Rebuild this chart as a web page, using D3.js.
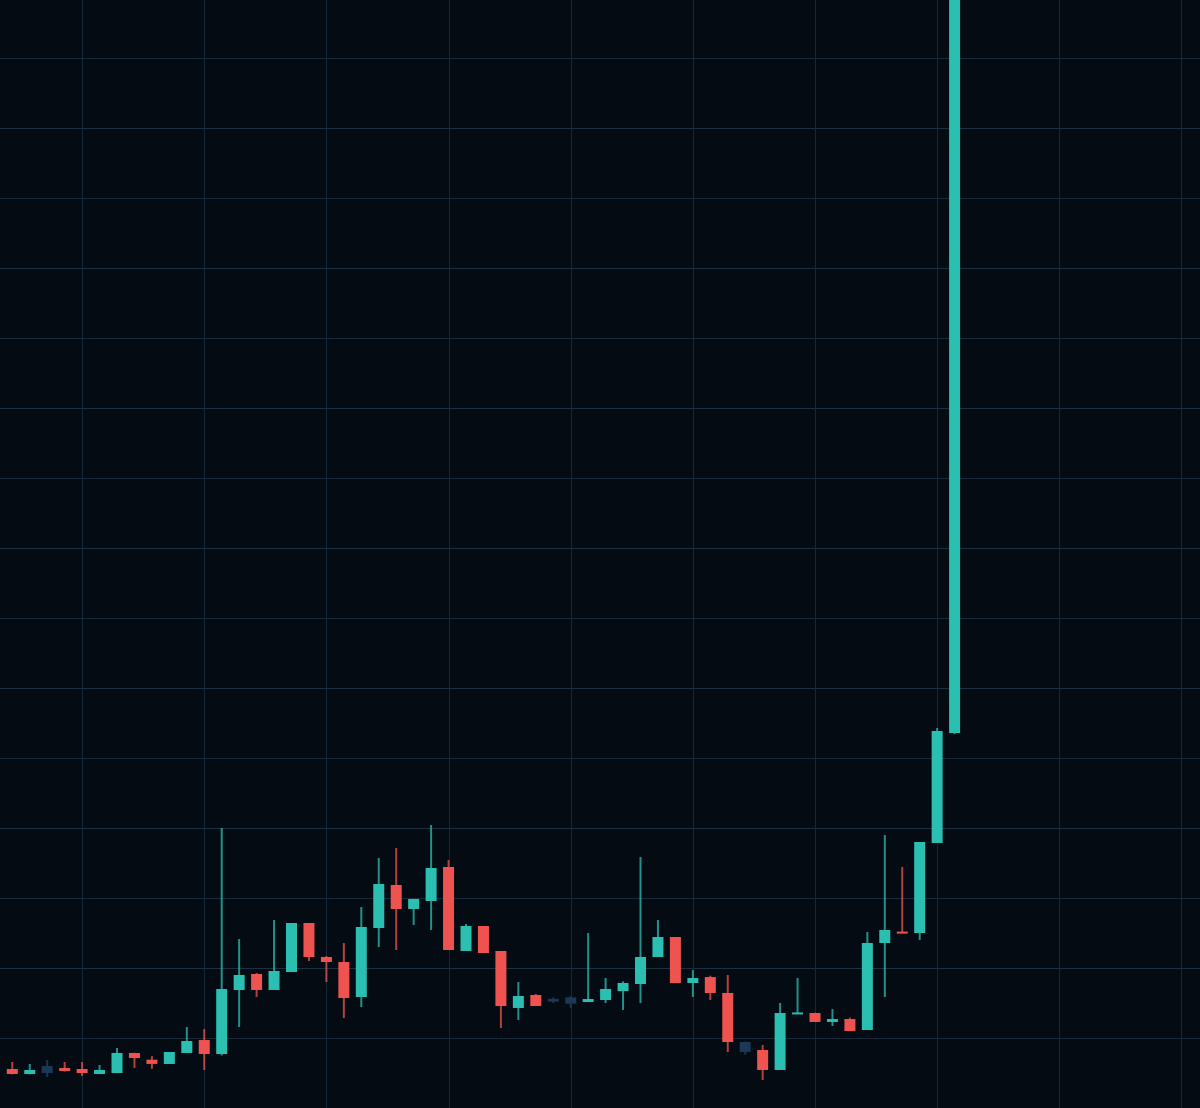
<!DOCTYPE html>
<html>
<head>
<meta charset="utf-8">
<script src="https://cdn.jsdelivr.net/npm/d3@7"></script>
<style>
  html, body { margin: 0; padding: 0; background: #050b12; }
  svg { display: block; }
</style>
</head>
<body>
<div id="chart"></div>
<script>
// ---- Data (price units) ----
const opens  = [5.57,4.86,5.0,5.71,5.57,4.86,5.0,7.86,6.9,6.29,7.86,9.71,7.71,16.86,19.14,16.86,19.43,26.43,21.57,20.86,15.86,25.71,31.86,28.43,29.57,34.43,22.43,26.0,22.43,14.29,16.14,15.2,14.9,15.14,15.43,16.7,17.71,21.57,24.43,17.86,18.71,16.43,8.0,8.29,5.43,13.5,13.57,12.29,12.71,11.14,23.57,25.2,25.0,37.86,53.57];
const highs  = [6.57,6.29,6.86,6.57,6.57,6.14,8.57,7.9,7.4,8.0,11.57,11.29,40.0,24.14,19.3,26.86,26.43,26.43,21.7,23.57,28.71,35.71,37.14,29.86,40.43,35.43,26.3,26.0,22.43,18.0,16.3,15.8,16.0,25.0,18.57,18.1,35.86,26.86,24.43,19.71,18.9,19.0,9.5,9.0,15.0,18.57,13.6,14.14,12.9,25.14,39.0,34.43,38.0,54.29,165];
const lows   = [4.8,4.8,4.43,5.2,4.57,4.86,5.0,5.7,5.6,6.29,7.86,5.43,7.5,11.57,15.86,16.86,19.43,21.0,18.0,12.86,14.43,23.0,22.57,26.14,25.43,22.57,22.43,22.14,11.43,12.57,14.57,15.0,14.29,15.14,15.0,14.0,15.0,21.57,17.86,15.86,15.43,8.0,7.6,4.0,5.43,13.5,12.29,11.71,11.0,11.14,15.86,25.1,24.0,37.86,53.4];
const closes = [4.86,5.43,6.0,5.29,5.0,5.43,7.86,7.14,6.3,8.0,9.57,7.71,17.0,19.0,16.86,19.57,26.43,21.57,20.86,15.71,25.86,32.0,28.43,29.86,34.29,22.57,26.0,22.14,14.57,16.0,14.57,15.6,15.8,15.57,17.0,17.86,21.57,24.43,17.86,18.57,16.43,9.43,9.43,5.43,13.57,13.65,12.29,12.71,11.0,23.57,25.43,25.1,38.0,53.86,165];
const fadedCandles = [2, 31, 32, 42];           // candles drawn almost invisible in the original
const categories = d3.range(opens.length);       // session index
const priceTicks = [10,20,30,40,50,60,70,80,90,100,110,120,130,140,150];
const timeTicks = [4,11,18,25,32,39,46,53,60,67]; // weekly grid

// ---- Layout ----
const W = 1200, H = 1108;
const svg = d3.select("#chart").append("svg").attr("width", W).attr("height", H);

svg.append("rect").attr("width", W).attr("height", H).attr("fill", "#050b12");

const x = d3.scaleLinear().domain([0, 54]).range([12.3, 954.6]);
const y = d3.scaleLinear().domain([0, H / 7]).range([H, 0]);

// grid
const grid = svg.append("g");
grid.selectAll("line.h").data(priceTicks).join("line")
  .attr("class", "h")
  .attr("x1", 0).attr("x2", W)
  .attr("y1", d => Math.round(y(d)) + 0.5).attr("y2", d => Math.round(y(d)) + 0.5)
  .attr("stroke", (d, i) => i % 2 === 0 ? "#172a3a" : "#1b3040")
  .attr("stroke-width", 1);
grid.selectAll("line.v").data(timeTicks).join("line")
  .attr("class", "v")
  .attr("y1", 0).attr("y2", H)
  .attr("x1", d => Math.round(x(d)) + 0.5).attr("x2", d => Math.round(x(d)) + 0.5)
  .attr("stroke", "#15283a")
  .attr("stroke-width", 1);

const data = categories.map(i => ({
  i, o: opens[i], h: highs[i], l: lows[i], c: closes[i], faded: fadedCandles.includes(i)
}));

const UP = "#2bbfb2", DOWN = "#ef5350", FADE = "#1b3856";
const color = d => d.faded ? FADE : (d.c >= d.o ? UP : DOWN);
const bodyW = 11;

const g = svg.append("g");
const candles = g.selectAll("g.candle").data(data).join("g").attr("class", "candle");

candles.append("line")
  .attr("x1", d => x(d.i)).attr("x2", d => x(d.i))
  .attr("y1", d => y(d.h)).attr("y2", d => y(d.l))
  .attr("stroke", color)
  .attr("stroke-opacity", d => d.faded ? 0.9 : 0.75)
  .attr("stroke-width", 2);

candles.append("rect")
  .attr("x", d => x(d.i) - bodyW / 2)
  .attr("width", bodyW)
  .attr("y", d => Math.min(y(d.o), y(d.c)))
  .attr("height", d => Math.max(2, Math.abs(y(d.o) - y(d.c))))
  .attr("fill", color);
</script>
</body>
</html>
